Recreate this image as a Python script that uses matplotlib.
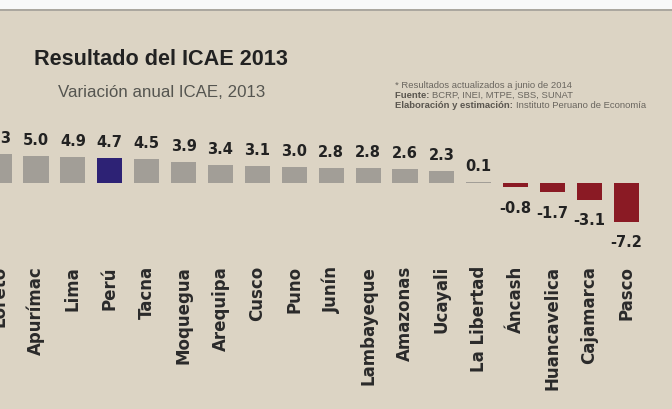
import matplotlib
matplotlib.use("Agg")
import matplotlib.pyplot as plt
from matplotlib.patches import Rectangle

regions = ["Loreto", "Apurímac", "Lima", "Perú", "Tacna", "Moquegua", "Arequipa",
           "Cusco", "Puno", "Junín", "Lambayeque", "Amazonas", "Ucayali",
           "La Libertad", "Áncash", "Huancavelica", "Cajamarca", "Pasco"]
values = [5.3, 5.0, 4.9, 4.7, 4.5, 3.9, 3.4, 3.1, 3.0, 2.8, 2.8, 2.6, 2.3,
          0.1, -0.8, -1.7, -3.1, -7.2]

title = "Resultado del ICAE 2013"
subtitle = "Variación anual ICAE, 2013"
notes = [("", "* Resultados actualizados a junio de 2014"),
         ("Fuente: ", "BCRP, INEI, MTPE, SBS, SUNAT"),
         ("Elaboración y estimación: ", "Instituto Peruano de Economía")]

BG = "#DCD4C4"
GREY = "#A29E97"
NAVY = "#2D2275"
RED = "#8A1A24"

W, H = 672, 410
fig = plt.figure(figsize=(W / 100, H / 100), dpi=100)
fig.patch.set_facecolor(BG)

# top white strip
fig.add_artist(Rectangle((0, 1 - 10 / H), 1, 10 / H, transform=fig.transFigure,
                         facecolor="#F8F8F8", edgecolor="none", zorder=0))
fig.add_artist(Rectangle((0, 1 - 12 / H), 1, 2 / H, transform=fig.transFigure,
                         facecolor="#ABA79F", edgecolor="none", zorder=0))

ax = fig.add_axes([0, 0, 1, 1])
ax.set_facecolor("none")
for s in ax.spines.values():
    s.set_visible(False)
ax.set_xticks([])
ax.set_yticks([])

spacing = 36.9
xmin = 0.9 / spacing
ax.set_xlim(xmin, xmin + W / spacing)
pxu = 5.4
zero = 184.0
ax.set_ylim(-(H - zero) / pxu, zero / pxu)

colors = []
for r, v in zip(regions, values):
    if r == "Perú":
        colors.append(NAVY)
    elif v < 0:
        colors.append(RED)
    else:
        colors.append(GREY)

x = list(range(len(regions)))
ax.bar(x, values, width=0.68, color=colors, edgecolor="none", zorder=2)

for xi, v in zip(x, values):
    if v >= 0:
        ax.annotate(f"{v:.1f}", (xi, v), xytext=(0, 6.5), textcoords="offset points",
                    ha="center", va="bottom", fontsize=10.5, fontweight="bold",
                    color="#222222", family="DejaVu Sans", annotation_clip=False)
    else:
        ax.annotate(f"{v:.1f}", (xi, v), xytext=(0, -9), textcoords="offset points",
                    ha="center", va="top", fontsize=10.5, fontweight="bold",
                    color="#222222", family="DejaVu Sans", annotation_clip=False)

label_y = (zero - 266) / pxu
for xi, r in zip(x, regions):
    ax.text(xi, label_y, r, rotation=90, ha="center", va="top", fontsize=12,
            fontweight="bold", color="#2A2A2A", family="DejaVu Sans")

# titles
fig.text(161 / W, 1 - 65 / H, title, ha="center", va="baseline", fontsize=15.6,
         fontweight="bold", color="#222222", family="Liberation Sans")
fig.text(161.5 / W, 1 - 97 / H, subtitle, ha="center", va="baseline", fontsize=12.2,
         color="#555550", family="Liberation Sans")

# notes
fig.canvas.draw()
renderer = fig.canvas.get_renderer()
x0 = 395 / W
for i, (bold, rest) in enumerate(notes):
    yb = 1 - (88 + i * 10) / H
    xx = x0
    if bold:
        t = fig.text(xx, yb, bold, ha="left", va="baseline", fontsize=6.8,
                     fontweight="bold", color="#5A564F", family="Liberation Sans")
        bb = t.get_window_extent(renderer)
        xx = bb.x1 / W
    fig.text(xx, yb, rest, ha="left", va="baseline", fontsize=6.8,
             color="#6A665F", family="Liberation Sans")

fig.savefig("out.png", dpi=100, facecolor=BG)
